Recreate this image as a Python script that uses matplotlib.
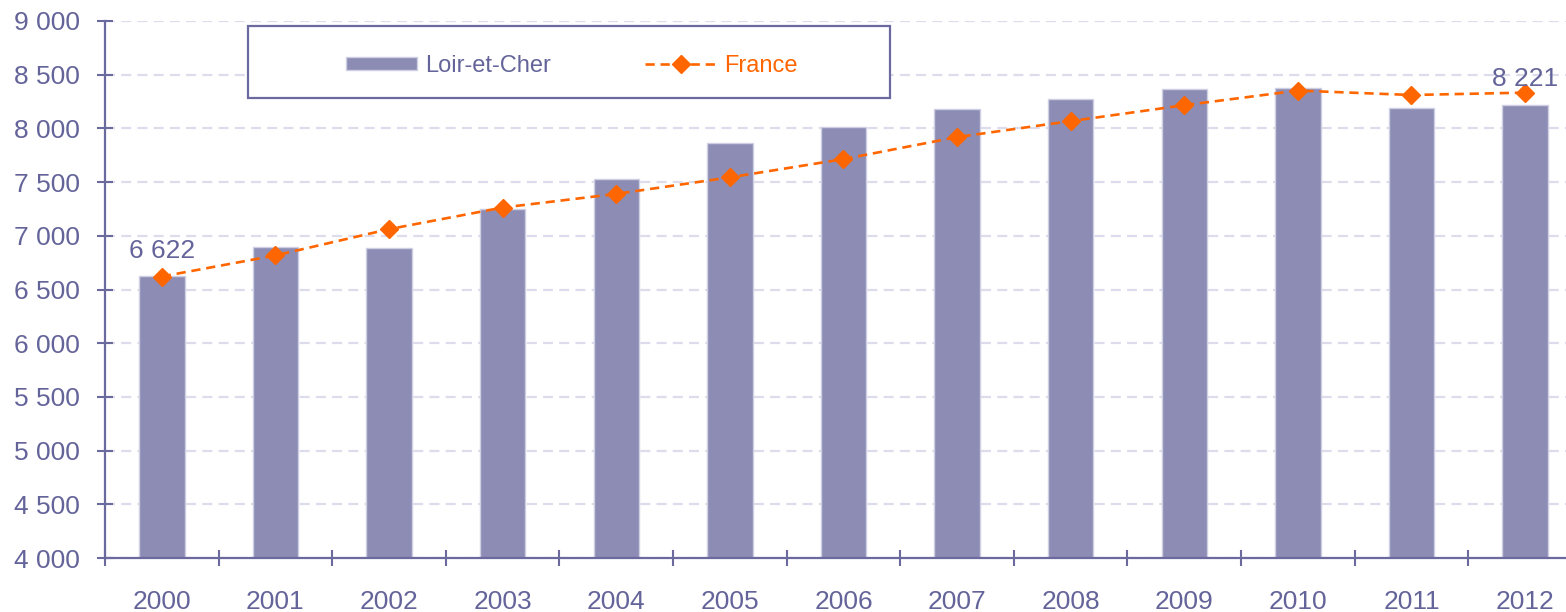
import matplotlib.pyplot as plt
from matplotlib.patches import Rectangle
from matplotlib.ticker import FuncFormatter, MultipleLocator

plt.rcParams['font.family'] = ['Liberation Sans', 'DejaVu Sans']

years = ['2000', '2001', '2002', '2003', '2004', '2005', '2006',
         '2007', '2008', '2009', '2010', '2011', '2012']
loir_et_cher = [6622, 6895, 6891, 7251, 7528, 7860, 8015,
                8177, 8276, 8364, 8380, 8191, 8221]
france = [6621, 6817, 7062, 7263, 7390, 7544, 7714,
          7919, 8068, 8216, 8352, 8311, 8333]

purple = '#8c8cb4'
axis_col = '#6a6a9e'
text_col = '#64649a'
orange = '#ff6600'
grid_col = '#dcdcec'

W, H = 1566, 612
fig = plt.figure(figsize=(W / 100, H / 100), dpi=100)
ax = fig.add_axes([105 / W, 1 - 558 / H, 1 - 105 / W, (558 - 21) / H])

x = list(range(len(years)))
bars = ax.bar(x, loir_et_cher, width=0.4, color=purple, edgecolor='#cfcfe3',
              linewidth=1, label='Loir-et-Cher', zorder=2)
line, = ax.plot(x, france, color=orange, linestyle=(0, (3.5, 2.2)), linewidth=1.9,
                marker='D', markersize=9.5, label='France', zorder=3)

# valeurs de début et de fin
for i in (0, len(years) - 1):
    ax.text(x[i], loir_et_cher[i] + 125, f"{loir_et_cher[i]:,}".replace(',', ' '),
            ha='center', va='bottom', fontsize=19, color=text_col, zorder=4)

ax.yaxis.set_major_locator(MultipleLocator(500))
ax.yaxis.set_major_formatter(FuncFormatter(lambda v, p: f"{int(v):,}".replace(',', ' ')))
ax.yaxis.grid(True, color=grid_col, linestyle=(0, (4.5, 2.8)), linewidth=1.6, zorder=0)
ax.set_axisbelow(True)

ax.set_xticks([i - 0.5 for i in range(len(years) + 1)])
ax.set_xticklabels([])
ax.set_xticks(x, minor=True)
ax.set_xticklabels(years, minor=True)
ax.set_ylim(4000, 9000)
ax.set_xlim(-0.5, 12.36)
ax.tick_params(axis='x', which='major', direction='inout', length=11.5,
               width=1.5, color=axis_col)
ax.tick_params(axis='x', which='minor', length=0, pad=23, labelsize=19,
               labelcolor=text_col)
ax.tick_params(axis='y', direction='inout', length=11.5, width=1.5,
               color=axis_col, labelsize=19, labelcolor=text_col, pad=12)

for s in ('top', 'right'):
    ax.spines[s].set_visible(False)
for s in ('left', 'bottom'):
    ax.spines[s].set_color(axis_col)
    ax.spines[s].set_linewidth(1.6)

# cadre de la légende
fig.patches.append(Rectangle((248 / W, 1 - 98 / H), (890 - 248) / W, (98 - 26) / H,
                             transform=fig.transFigure, facecolor='white',
                             edgecolor=axis_col, linewidth=1.6, zorder=5))
leg = fig.legend([bars, line], ['Loir-et-Cher', 'France'],
                 loc='center left', bbox_to_anchor=(334 / W, 1 - 66 / H),
                 ncol=2, frameon=False, fontsize=17, borderpad=0,
                 handlelength=3.0, handleheight=0.5, handletextpad=0.35,
                 columnspacing=4.0)
leg.set_zorder(6)
for t, c in zip(leg.get_texts(), (text_col, orange)):
    t.set_color(c)

plt.savefig('out.png', dpi=100)
